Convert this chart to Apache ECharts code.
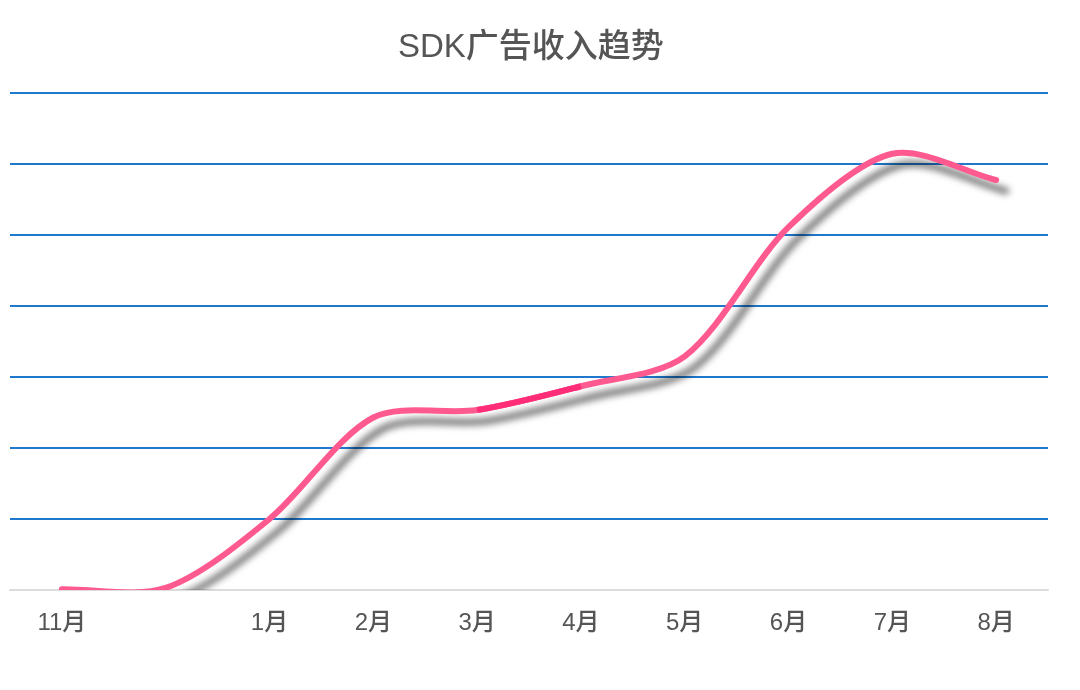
<!DOCTYPE html>
<html>
<head>
<meta charset="utf-8">
<script src="https://cdn.jsdelivr.net/npm/echarts@6/dist/echarts.min.js"></script>
<style>html,body{margin:0;padding:0;background:#fff;}#c{width:1080px;height:690px;}</style>
</head>
<body>
<div id="c"></div>
<script>
const titleText = 'SDK广告收入趋势';
const categories = ['11月', '', '1月', '2月', '3月', '4月', '5月', '6月', '7月', '8月'];
const revenue = [0.01, 0.03, 1.0, 2.43, 2.535, 2.87, 3.29, 5.11, 6.145, 5.775];
const highlightFrom = 4; // 3月
const highlightTo = 5;   // 4月

const TENSION = 0.3;
const FONT = '"Liberation Sans", "Noto Sans CJK SC", sans-serif';

function controlPoints(pts) {
  const n = pts.length;
  const cps = [];
  for (let i = 0; i < n; i++) {
    const cur = pts[i];
    const prev = i > 0 ? pts[i - 1] : cur;
    const next = i < n - 1 ? pts[i + 1] : cur;
    const d01 = Math.hypot(cur[0] - prev[0], cur[1] - prev[1]);
    const d12 = Math.hypot(next[0] - cur[0], next[1] - cur[1]);
    let s01 = d01 / (d01 + d12), s12 = d12 / (d01 + d12);
    if (isNaN(s01)) s01 = 0;
    if (isNaN(s12)) s12 = 0;
    const fa = TENSION * s01, fb = TENSION * s12;
    cps.push({
      prev: [cur[0] - fa * (next[0] - prev[0]), cur[1] - fa * (next[1] - prev[1])],
      next: [cur[0] + fb * (next[0] - prev[0]), cur[1] + fb * (next[1] - prev[1])]
    });
  }
  return cps;
}

function pathFor(pts, cps, from, to) {
  let d = 'M' + pts[from][0] + ' ' + pts[from][1];
  for (let i = from; i < to; i++) {
    const a = cps[i].next, b = cps[i + 1].prev, p = pts[i + 1];
    d += ' C' + a[0] + ' ' + a[1] + ' ' + b[0] + ' ' + b[1] + ' ' + p[0] + ' ' + p[1];
  }
  return d;
}

const chart = echarts.init(document.getElementById('c'), null, {renderer: 'canvas'});
chart.setOption({
  backgroundColor: '#ffffff',
  animation: false,
  title: {
    text: titleText,
    left: 393,
    top: 26,
    textStyle: { fontFamily: FONT, fontSize: 33, fontWeight: 500, color: '#555555' }
  },
  grid: { left: 10, right: 32, top: 93, bottom: 100, containLabel: false },
  xAxis: {
    type: 'category',
    data: categories,
    boundaryGap: true,
    axisLine: { show: true, lineStyle: { color: '#dcdcdc', width: 2 } },
    axisTick: { show: false },
    axisLabel: { margin: 21, fontSize: 24, fontWeight: 500, color: '#555555', fontFamily: FONT, interval: 0 },
    splitLine: { show: false }
  },
  yAxis: {
    type: 'value',
    min: 0,
    max: 7,
    interval: 1,
    axisLine: { show: false },
    axisTick: { show: false },
    axisLabel: { show: false },
    splitLine: { show: true, lineStyle: { color: '#1f78cc', width: 2 } }
  },
  series: [{
    type: 'custom',
    clip: true,
    data: revenue.map((v, i) => [i, v]),
    encode: { x: 0, y: 1 },
    renderItem: function (params, api) {
      if (params.dataIndex !== 0) return null;
      const pts = revenue.map((v, i) => api.coord([i, v]));
      const cps = controlPoints(pts);
      return {
        type: 'group',
        children: [
          {
            type: 'path',
            shape: { pathData: pathFor(pts, cps, 0, pts.length - 1) },
            style: {
              fill: null, stroke: '#ff5a8f', lineWidth: 6, lineCap: 'round', lineJoin: 'round',
              shadowColor: 'rgba(0,0,0,0.6)', shadowBlur: 7, shadowOffsetX: 10, shadowOffsetY: 11
            }
          },
          {
            type: 'path',
            shape: { pathData: pathFor(pts, cps, highlightFrom, highlightTo) },
            style: { fill: null, stroke: '#ff2d78', lineWidth: 6, lineCap: 'butt' }
          }
        ]
      };
    }
  }]
});
</script>
</body>
</html>
